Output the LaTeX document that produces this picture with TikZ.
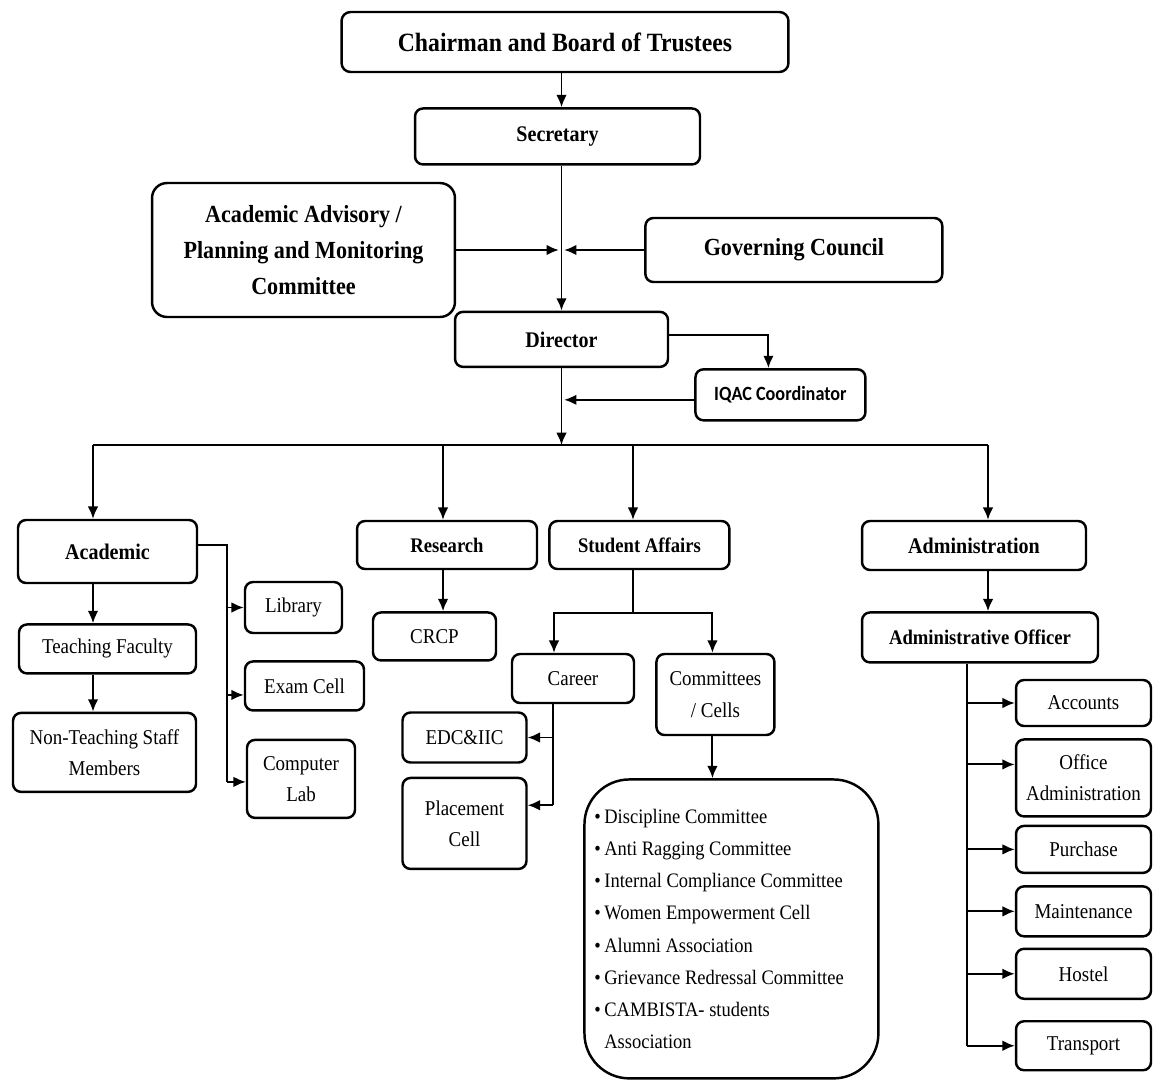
\documentclass[tikz,border=0pt]{standalone}
\usepackage{fontspec}
\setmainfont{Liberation Serif}[FakeStretch=0.9]
\newfontfamily\iqacfont{Carlito}[FakeStretch=0.9]
\usetikzlibrary{arrows.meta,positioning}

\begin{document}
\begin{tikzpicture}[x=0.02cm,y=-0.02cm,
  every node/.style={align=center,inner sep=1pt},%
  d/.style={draw,rounded corners=0.16cm,line width=1.4pt},%
  ln/.style={line width=1.1pt},%
  e/.style={ln,-{Latex[length=7pt,width=6pt]}},%
  t1/.style={font=\fontsize{15pt}{18pt}\selectfont\bfseries},%
  t2/.style={font=\fontsize{14pt}{20.4pt}\selectfont\bfseries},%
  t3/.style={font=\fontsize{12.7pt}{15pt}\selectfont\bfseries},%
  t4/.style={font=\fontsize{11.8pt}{14pt}\selectfont\bfseries},%
  tr/.style={font=\fontsize{12pt}{17.8pt}\selectfont},%
  tl/.style={font=\fontsize{11.7pt}{18.3pt}\selectfont},%
  ]
  \useasboundingbox (0,0) rectangle (1153,1079);

  % top of the chart
  \node (chair) [d,t1,rounded corners=0.18cm,
  minimum width=8.94cm,minimum height=1.2cm] at (565,42)
  {Chairman and Board of Trustees};

  \node (secr) [d,t3,
  below=0.68cm of chair,xshift=-0.15cm,
  minimum width=5.7cm,minimum height=1.12cm] {Secretary};

  \node (dir) [d,t3,
  below=2.9cm of secr,xshift=0.08cm,
  minimum width=4.26cm,minimum height=1.1cm] {Director};

  \node (adv) [d,t2,rounded corners=0.3cm,
  minimum width=6.06cm,minimum height=2.68cm] at (303.5,250)
  {Academic Advisory /\\Planning and Monitoring\\Committee};

  \node (gov) [d,t2,
  right=3.76cm of adv,
  minimum width=5.94cm,minimum height=1.28cm] {Governing Council};

  \node (iqac) [d,
  below right=0cm and 0.5cm of dir.south east,
  minimum width=3.4cm,minimum height=1.02cm,
  font=\iqacfont\fontsize{11.5pt}{13pt}\selectfont\bfseries] {IQAC Coordinator};

  % academic
  \node (acad) [d,t3,
  minimum width=3.58cm,minimum height=1.26cm] at (107.5,551.5) {Academic};

  \node (teach) [d,tr,
  below=0.78cm of acad,
  minimum width=3.54cm,minimum height=0.98cm] {Teaching Faculty};

  \node (nonteach) [d,tr,
  below=0.74cm of teach,xshift=-0.06cm,
  minimum width=3.66cm,minimum height=1.58cm] {Non-Teaching Staff\\Members};

  \node (lib) [d,tr,
  minimum width=1.94cm,minimum height=1.02cm] at (293.5,607.5) {Library};

  \node (exam) [d,tr,
  below=0.52cm of lib,xshift=0.22cm,
  minimum width=2.38cm,minimum height=0.98cm] {Exam Cell};

  \node (comp) [d,tr,
  below=0.54cm of exam,xshift=-0.07cm,
  minimum width=2.16cm,minimum height=1.56cm] {Computer\\Lab};

  % research and student affairs
  \node (res) [d,t4,
  minimum width=3.6cm,minimum height=0.96cm] at (447,545) {Research};

  \node (crcp) [d,tr,
  below=0.82cm of res,xshift=-0.25cm,
  minimum width=2.46cm,minimum height=0.96cm] {CRCP};

  \node (sa) [d,t4,
  right=0.2cm of res,
  minimum width=3.6cm,minimum height=0.96cm] {Student Affairs};

  \node (career) [d,tr,
  minimum width=2.44cm,minimum height=0.98cm] at (573,678.5) {Career};

  \node (comm) [d,tr,
  below right=0cm and 0.4cm of career.north east,
  minimum width=2.36cm,minimum height=1.62cm] {Committees\\/ Cells};

  \node (edc) [d,tr,
  minimum width=2.48cm,minimum height=1.0cm] at (464.5,737.5) {EDC\&IIC};

  \node (place) [d,tr,
  below=0.26cm of edc,
  minimum width=2.48cm,minimum height=1.82cm] {Placement\\Cell};

  \node (list) [d,tl,rounded corners=0.9cm,
  below=0.84cm of comm,xshift=0.32cm,
  minimum width=5.88cm,minimum height=5.98cm,
  text width=5.48cm,inner xsep=0.2cm,align=flush left]
  {\textbullet\,Discipline Committee\\
   \textbullet\,Anti Ragging Committee\\
   \textbullet\,Internal Compliance Committee\\
   \textbullet\,Women Empowerment Cell\\
   \textbullet\,Alumni Association\\
   \textbullet\,Grievance Redressal Committee\\
   \textbullet\,CAMBISTA- students\\
   \hphantom{\textbullet\,}Association};

  % administration
  \node (admin) [d,t3,
  minimum width=4.48cm,minimum height=0.98cm] at (974,545.5) {Administration};

  \node (ao) [d,t4,
  below=0.8cm of admin,xshift=0.12cm,
  minimum width=4.72cm,minimum height=1.0cm] {Administrative Officer};

  \node (acc) [d,tr,
  minimum width=2.7cm,minimum height=0.92cm] at (1083.5,703) {Accounts};

  \node (office) [d,tr,below=0.22cm of acc,
  minimum width=2.7cm,minimum height=1.54cm] {Office\\Administration};

  \node (purch) [d,tr,below=0.14cm of office,
  minimum width=2.7cm,minimum height=0.94cm] {Purchase};

  \node (maint) [d,tr,below=0.22cm of purch,
  minimum width=2.7cm,minimum height=1.0cm] {Maintenance};

  \node (hostel) [d,tr,below=0.2cm of maint,
  minimum width=2.7cm,minimum height=1.0cm] {Hostel};

  \node (trans) [d,tr,below=0.4cm of hostel,
  minimum width=2.7cm,minimum height=0.98cm] {Transport};

  % bus below the director
  \coordinate (j1) at (93,445);
  \coordinate (j2) at (443,445);
  \coordinate (j3) at (633,445);
  \coordinate (j4) at (988,445);

  \draw [e] (chair.south -| dir) -- (secr.north -| dir);
  \draw [e] (secr.south -| dir) -- (dir);
  \draw [e] (adv.east) -- ([xshift=-1.5pt]adv.east -| dir);
  \draw [e] (gov.west) -- ([xshift=1.5pt]gov.west -| dir);
  \draw [e] ([yshift=0.09cm]dir.east) -| ([xshift=-0.24cm]iqac.north);
  \draw [e] ([yshift=-0.1cm]iqac.west) -- ([yshift=-0.1cm,xshift=1.5pt]iqac.west -| dir);
  \draw [e] (dir) -- (dir |- j1);

  \draw [ln] (j1) -- (j4);
  \draw [e] (j1) -- (j1 |- acad.north);
  \draw [e] (j2) -- (j2 |- res.north);
  \draw [e] (j3) -- (j3 |- sa.north);
  \draw [e] (j4) -- (j4 |- admin.north);

  \draw [e] (j1 |- acad.south) -- (j1 |- teach.north);
  \draw [e] (j1 |- teach.south) -- (j1 |- nonteach.north);
  \draw [ln] ([yshift=0.13cm]acad.east) -- ++(29,0) coordinate (ac)
  -- ([yshift=-0.06cm]ac |- comp.west);
  \draw [e] (ac |- lib.west) -- (lib.west);
  \draw [e] ([yshift=-0.18cm]ac |- exam.west) -- ([yshift=-0.18cm]exam.west);
  \draw [e] ([yshift=-0.06cm]ac |- comp.west) -- ([yshift=-0.06cm]comp.west);

  \draw [e] (j2 |- res.south) -- (j2 |- crcp.north);

  \draw [ln] (j3 |- sa.south) -- ++(0,43) coordinate (sj);
  \draw [e] (sj) -| ([xshift=-0.38cm]career.north);
  \draw [e] (sj) -| ([xshift=-0.06cm]comm.north);
  \draw [ln] ([xshift=-0.4cm]career.south) -- ++(0,101) coordinate (cj);
  \draw [e] (cj |- edc.east) -- (edc.east);
  \draw [e] (cj) -- (cj -| place.east);
  \draw [e] ([xshift=-0.06cm]comm.south) -- ([xshift=-0.06cm]comm.south |- list.north);

  \draw [e] (j4 |- admin.south) -- (j4 |- ao.north);
  \draw [ln] ([xshift=-0.26cm]ao.south) coordinate (aj) -- (aj |- trans.west);
  \draw [e] (aj |- acc.west) -- (acc.west);
  \draw [e] ([yshift=0.27cm]aj |- office.west) -- ([yshift=0.27cm]office.west);
  \draw [e] (aj |- purch.west) -- (purch.west);
  \draw [e] (aj |- maint.west) -- (maint.west);
  \draw [e] (aj |- hostel.west) -- (hostel.west);
  \draw [e] (aj |- trans.west) -- (trans.west);
\end{tikzpicture}
\end{document}
